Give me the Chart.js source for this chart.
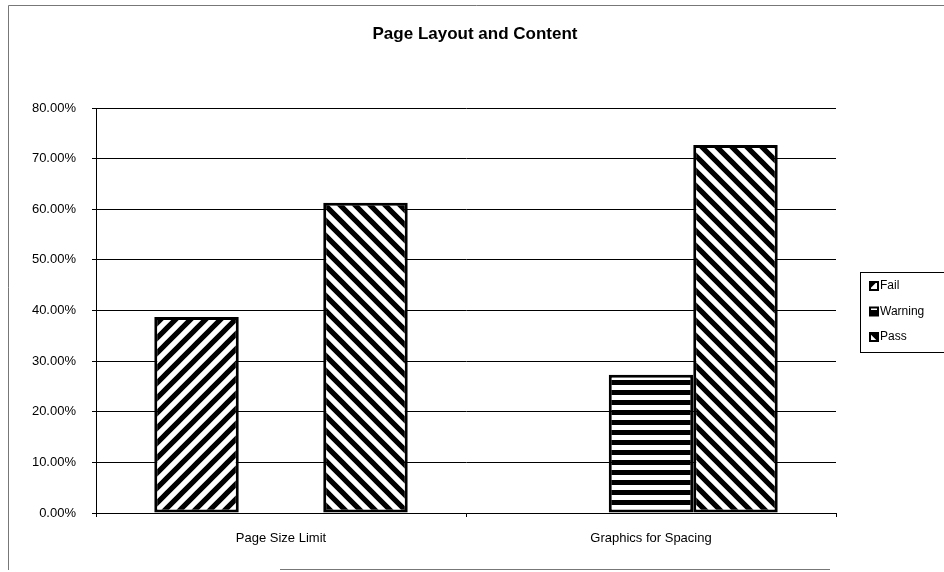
<!DOCTYPE html>
<html>
<head>
<meta charset="utf-8">
<script src="https://cdn.jsdelivr.net/npm/chart.js@4/dist/chart.umd.min.js"></script>
<style>
  html, body { margin: 0; padding: 0; background: #fff; }
  #wrap { width: 944px; height: 572px; position: relative; }
</style>
</head>
<body>
<div id="wrap"><canvas id="chart"></canvas></div>
<script>
const categories = ["Page Size Limit", "Graphics for Spacing"];
const failValues = [38.7, 0];
const warningValues = [0, 27.3];
const passValues = [61.3, 72.7];
const yTicks = [0, 10, 20, 30, 40, 50, 60, 70, 80];

const FONT = "'Liberation Sans', Arial, sans-serif";

// small tiles used as hatch fills, like the old Excel b/w patterns
function stripeTile(kind) {
  const c = document.createElement("canvas");
  const s = 15;
  if (kind === "h") { c.width = 8; c.height = 10; } else { c.width = s; c.height = s; }
  const ctx = c.getContext("2d");
  ctx.fillStyle = "#fff";
  ctx.fillRect(0, 0, c.width, c.height);
  ctx.fillStyle = "#000";
  ctx.strokeStyle = "#000";
  if (kind === "h") {
    ctx.fillRect(0, 0, 8, 5);
    return c;
  }
  ctx.lineWidth = 5.2;
  ctx.beginPath();
  for (const o of [-s, 0, s]) {
    if (kind === "up") {
      ctx.moveTo(o - 2, s + 2); ctx.lineTo(o + s + 2, -2);
    } else {
      ctx.moveTo(o - 2, -2); ctx.lineTo(o + s + 2, s + 2);
    }
  }
  ctx.stroke();
  return c;
}

const ctx = document.getElementById("chart").getContext("2d");
const failFill = ctx.createPattern(stripeTile("up"), "repeat");
const warnFill = ctx.createPattern(stripeTile("h"), "repeat");
const passFill = ctx.createPattern(stripeTile("down"), "repeat");

const frame = {
  id: "frame",
  beforeDraw(chart) {
    const c = chart.ctx;
    c.save();
    c.fillStyle = "#fff";
    c.fillRect(0, 0, chart.width, chart.height);
    c.strokeStyle = "#777";
    c.lineWidth = 1;
    c.beginPath();
    c.moveTo(8.5, 570); c.lineTo(8.5, 5.5); c.lineTo(944, 5.5);
    c.moveTo(280, 569.5); c.lineTo(830, 569.5);
    c.stroke();
    c.fillStyle = "#000";
    c.font = "bold 17px " + FONT;
    c.textAlign = "center";
    c.textBaseline = "middle";
    c.fillText("Page Layout and Content", 475, 34);
    c.restore();
  },
  afterDraw(chart) {
    const c = chart.ctx;
    c.save();
    c.strokeStyle = "#000";
    c.lineWidth = 1;
    c.strokeRect(860.5, 272.5, 90, 80);
    c.font = "12px " + FONT;
    c.textBaseline = "middle";
    c.textAlign = "left";
    chart.data.datasets.forEach((ds, i) => {
      const y = 286 + i * 25.5;
      c.fillStyle = "#000";
      c.fillRect(869, y - 5, 10, 10);
      c.fillStyle = ds.backgroundColor;
      c.fillRect(871, y - 3, 6, 6);
      c.fillStyle = "#000";
      c.fillText(ds.label, 880, y);
    });
    c.restore();
  },
};

const barBorder = (c) => (c.raw ? 3 : 0);

new Chart(ctx, {
  type: "bar",
  data: {
    labels: categories,
    datasets: [
      { label: "Fail", data: failValues, backgroundColor: failFill },
      { label: "Warning", data: warningValues, backgroundColor: warnFill },
      { label: "Pass", data: passValues, backgroundColor: passFill },
    ].map((d) => ({
      ...d,
      borderColor: "#000",
      borderWidth: barBorder,
      borderSkipped: false,
      barPercentage: 1,
      categoryPercentage: 0.685,
    })),
  },
  options: {
    responsive: true,
    maintainAspectRatio: false,
    animation: false,
    layout: { padding: { left: 0, top: 108, right: 108, bottom: 0 } },
    plugins: {
      legend: { display: false },
      title: { display: false },
      tooltip: { enabled: false },
    },
    scales: {
      x: {
        grid: {
          display: true,
          drawOnChartArea: false,
          offset: true,
          tickLength: 4,
          color: "#000",
        },
        border: { color: "#000", width: 1 },
        ticks: { color: "#000", padding: 14, font: { family: FONT, size: 13 } },
        afterFit: (s) => { s.height = 59; },
      },
      y: {
        min: 0,
        max: 80,
        afterBuildTicks: (s) => { s.ticks = yTicks.map((v) => ({ value: v })); },
        grid: { color: "#000", lineWidth: 1, tickLength: 4 },
        border: { color: "#000", width: 1 },
        ticks: {
          color: "#000",
          padding: 16,
          font: { family: FONT, size: 13 },
          callback: (v) => v.toFixed(2) + "%",
        },
        afterFit: (s) => { s.width = 96; },
      },
    },
  },
  plugins: [frame],
});
</script>
</body>
</html>
